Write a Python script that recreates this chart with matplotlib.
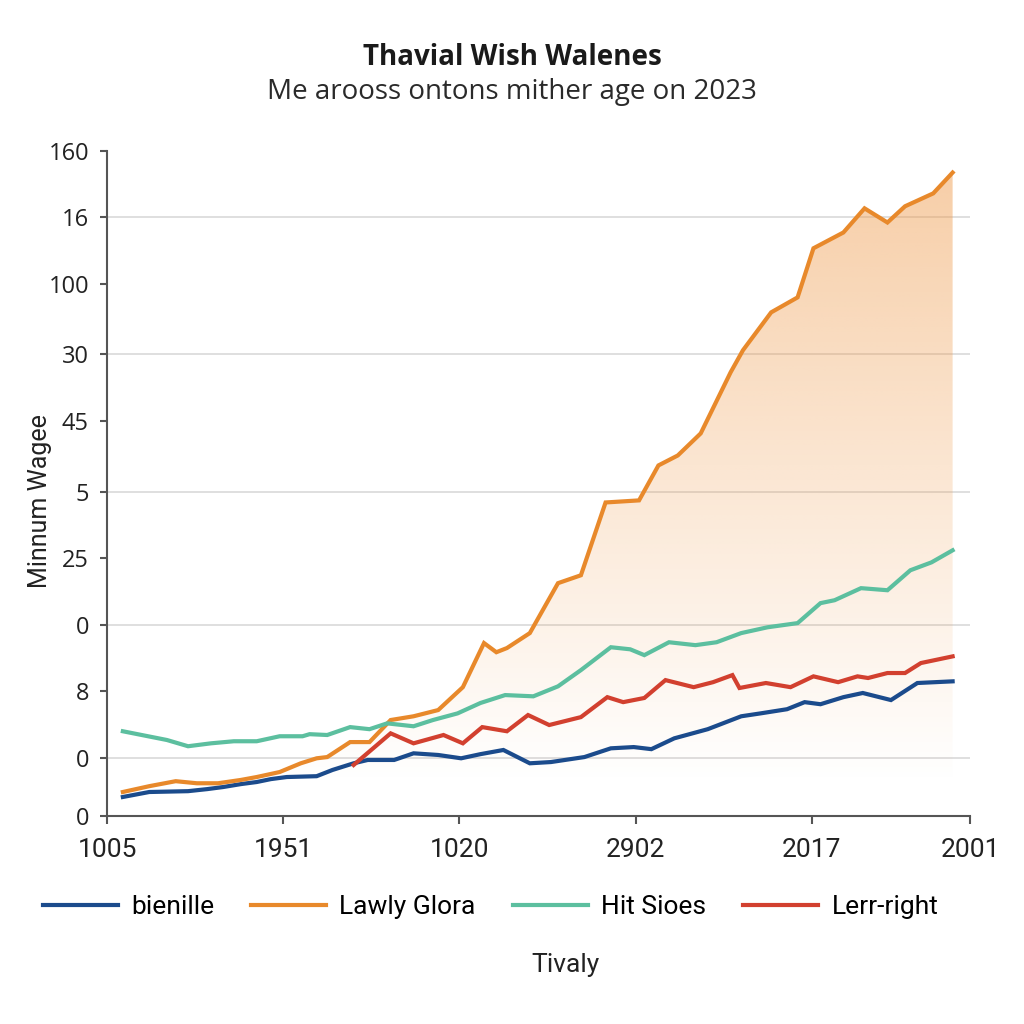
import numpy as np
import matplotlib
matplotlib.use("Agg")
import matplotlib.pyplot as plt
from matplotlib.colors import to_rgb

plt.rcParams['font.family'] = ['Open Sans', 'DejaVu Sans']

# Values (x in tick units, y in axis units 0-160)
blue_x = [0.9, 2.4, 4.6, 5.7, 6.6, 7.6, 8.5, 9.3, 10.2, 11.9, 12.8, 14.0, 14.8, 16.3,
          17.4, 18.8, 20.1, 21.2, 22.5, 24.0, 25.2, 27.1, 28.6, 29.9, 30.9, 32.2,
          34.1, 36.0, 37.1, 38.6, 39.6, 40.5, 41.8, 42.9, 44.5, 46.0, 48.0]
blue_y = [4.6, 5.8, 6.0, 6.5, 7.0, 7.7, 8.2, 8.9, 9.4, 9.6, 11.1, 12.7, 13.5, 13.5,
          15.1, 14.7, 13.9, 14.9, 15.9, 12.7, 13.0, 14.2, 16.3, 16.6, 16.1, 18.7,
          20.9, 24.0, 24.7, 25.7, 27.4, 26.9, 28.6, 29.6, 27.9, 32.0, 32.4]

orange_x = [0.9, 2.4, 3.9, 5.1, 6.3, 7.6, 8.5, 9.8, 11.0, 11.9, 12.5, 13.8, 14.9,
            16.1, 17.4, 18.8, 20.2, 21.4, 22.1, 22.7, 24.0, 25.6, 26.9, 28.3, 30.2,
            31.3, 32.4, 33.7, 35.4, 36.1, 37.7, 39.2, 40.1, 41.8, 43.0, 44.3, 45.3,
            46.9, 48.0]
orange_y = [5.8, 7.2, 8.4, 7.9, 7.9, 8.7, 9.4, 10.6, 12.7, 13.9, 14.2, 17.8, 17.8,
            23.1, 24.0, 25.5, 31.0, 41.6, 39.4, 40.4, 44.0, 56.0, 57.9, 75.4, 75.9,
            84.3, 86.7, 92.0, 106.7, 112.0, 121.1, 124.7, 136.5, 140.3, 146.1, 142.7,
            146.6, 149.7, 154.7]

teal_x = [0.9, 3.4, 4.6, 5.9, 7.2, 8.5, 9.8, 11.1, 11.5, 12.5, 13.8, 14.9, 15.9,
          17.4, 18.5, 19.9, 21.2, 22.6, 24.2, 25.6, 26.9, 28.6, 29.7, 30.5, 31.9,
          33.4, 34.6, 36.0, 37.5, 39.2, 40.5, 41.3, 42.8, 44.3, 45.6, 46.8, 48.0]
teal_y = [20.4, 18.3, 16.8, 17.5, 18.0, 18.0, 19.2, 19.2, 19.7, 19.5, 21.4, 20.9,
          22.3, 21.6, 23.1, 24.7, 27.2, 29.1, 28.8, 31.2, 35.1, 40.6, 40.1, 38.7,
          41.8, 41.1, 41.8, 44.0, 45.4, 46.4, 51.2, 51.9, 54.8, 54.3, 59.1, 61.0, 63.9]

red_x = [14.0, 16.1, 17.4, 19.1, 20.2, 21.3, 22.7, 23.9, 25.1, 26.9, 28.4, 29.3,
         30.5, 31.7, 33.3, 34.4, 35.5, 35.9, 37.4, 38.8, 40.1, 41.5, 42.6, 43.2,
         44.3, 45.3, 46.2, 48.0]
red_y = [12.3, 19.9, 17.5, 19.5, 17.5, 21.4, 20.4, 24.3, 21.9, 23.8, 28.6, 27.4,
         28.4, 32.7, 31.0, 32.2, 33.9, 30.8, 32.0, 31.0, 33.6, 32.2, 33.6, 33.2,
         34.4, 34.4, 36.8, 38.4]

series_names = ["bienille", "Lawly Glora", "Hit Sioes", "Lerr-right"]
series_colors = ["#1b4b8c", "#e8892b", "#5cbf9f", "#d2402f"]

y_ticks = [0, 14, 30, 46, 62, 78, 95, 111, 128, 144, 160]
y_labels = ["0", "0", "8", "0", "25", "5", "45", "30", "100", "16", "160"]
grid_ticks = [14, 46, 78, 111, 144]
x_ticks = [0, 10, 20, 30, 40, 49]
x_labels = ["1005", "1951", "1020", "2902", "2017", "2001"]

fig = plt.figure(figsize=(10.24, 10.24), dpi=100)
ax = fig.add_axes([0.1045, 0.203, 0.843, 0.650])

for g in grid_ticks:
    ax.axhline(g, color="#d9d9d9", lw=1.2, zorder=0)

# gradient fill under the orange series
poly = ax.fill_between(orange_x, orange_y, 0, facecolor="none", edgecolor="none")
r, g_, b = to_rgb("#ef9a4a")
grad = np.zeros((256, 2, 4))
grad[..., 0], grad[..., 1], grad[..., 2] = r, g_, b
alpha = np.clip((np.linspace(160, 0, 256) - 8) / 152, 0, 1) * 0.5
grad[..., 3] = alpha[:, None]
im = ax.imshow(grad, extent=[orange_x[0], orange_x[-1], 0, 160], aspect="auto",
               zorder=1, interpolation="bilinear")
im.set_clip_path(poly.get_paths()[0], transform=ax.transData)
ax.set_xlim(0, 49)
ax.set_ylim(0, 160)

lines = []
for xs, ys, name, c in zip([blue_x, orange_x, teal_x, red_x],
                           [blue_y, orange_y, teal_y, red_y],
                           series_names, series_colors):
    ln, = ax.plot(xs, ys, color=c, lw=3, label=name, zorder=3,
                  solid_joinstyle="miter")
    lines.append(ln)

ax.set_yticks(y_ticks)
ax.set_yticklabels(y_labels, fontsize=17, color="#222222")
ax.set_yticks(grid_ticks, minor=True)
ax.set_xticks(x_ticks)
ax.set_xticklabels(x_labels, fontsize=19, color="#222222", family=["Roboto", "DejaVu Sans"])
ax.tick_params(axis="both", length=6, width=1.5, color="#555555")
ax.tick_params(axis="y", which="minor", direction="in", length=6, width=1.5,
               color="#555555")
ax.tick_params(axis="y", pad=8, length=5)
ax.tick_params(axis="x", pad=10)
for s in ["top", "right"]:
    ax.spines[s].set_visible(False)
for s in ["left", "bottom"]:
    ax.spines[s].set_color("#555555")
    ax.spines[s].set_linewidth(1.5)

ax.set_ylabel("Minnum Wagee", fontsize=18, color="#222222",
              family=["Roboto", "DejaVu Sans"])
ax.yaxis.set_label_coords(-0.064, 0.474)
fig.text(0.552, 0.058, "Tivaly", fontsize=19, color="#222222", ha="center",
         va="center", family=["Roboto", "DejaVu Sans"])

fig.text(0.5, 0.944, "Thavial Wish Walenes", fontsize=20, fontweight="bold",
         color="#1a1a1a", ha="center", va="center")
fig.text(0.5, 0.910, "Me arooss ontons mither age on 2023", fontsize=20,
         color="#2a2a2a", ha="center", va="center")

fig.legend(handles=lines, loc="center", bbox_to_anchor=(0.479, 0.114), ncol=4,
           frameon=False, prop={"family": ["Roboto", "DejaVu Sans"], "size": 19},
           handlelength=2.85, handletextpad=0.5, columnspacing=1.4)

fig.savefig("out.png", dpi=100)
